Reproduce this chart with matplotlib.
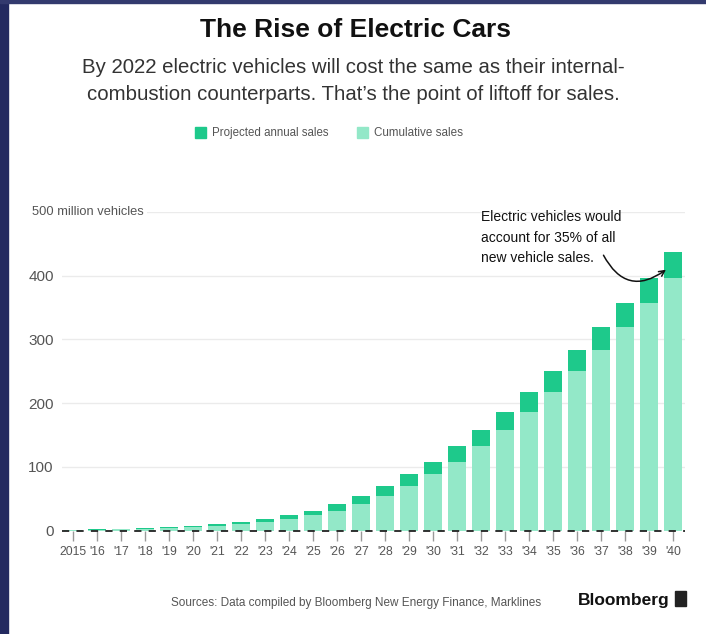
import matplotlib.pyplot as plt
from matplotlib.patches import Rectangle
import numpy as np

plt.rcParams['font.family'] = ['Liberation Sans', 'DejaVu Sans']

years = ['2015', "'16", "'17", "'18", "'19", "'20", "'21", "'22", "'23", "'24",
         "'25", "'26", "'27", "'28", "'29", "'30", "'31", "'32", "'33", "'34",
         "'35", "'36", "'37", "'38", "'39", "'40"]
# million vehicles
cumulative = [0.6, 1.2, 2, 3, 4, 5.5, 7.5, 10.5, 14, 18, 24, 31, 42, 54, 70,
              88, 108, 132, 158, 186, 217, 250, 284, 320, 357, 397]
annual = [0.6, 0.8, 1, 1, 1.5, 2, 3, 3.5, 4, 6, 7, 11, 12, 16, 18, 20, 24,
          26, 28, 31, 33, 34, 36, 37, 40, 40]
yticks = [0, 100, 200, 300, 400, 500]

dark = '#1ec98b'
light = '#93e8c8'
W, H = 706, 634

fig = plt.figure(figsize=(W/100, H/100), dpi=100)
fig.patch.set_facecolor('white')
# slide background strips
fig.add_artist(Rectangle((0, 0), 8/W, 1, transform=fig.transFigure, color='#232a60', zorder=0))
fig.add_artist(Rectangle((0, 1-3/H), 1, 3/H, transform=fig.transFigure, color='#333a6e', zorder=0))

ax = fig.add_axes([62/W, (H-530.5)/H, (685-62)/W, (530.5-212)/H])
x = np.arange(len(years))
ax.bar(x, cumulative, width=0.72, color=light, zorder=2)
ax.bar(x, annual, width=0.72, bottom=cumulative, color=dark, zorder=2)

ax.set_xlim(-0.46, 25.5)
ax.set_ylim(0, 500)
for v in yticks[1:]:
    ax.axhline(v, color='#ebebeb', lw=1, zorder=1)
ax.axhline(0, color='#222222', lw=1.3, ls=(0, (4, 4)), zorder=3, clip_on=False)

for s in ax.spines.values():
    s.set_visible(False)
ax.set_xticks(x)
ax.set_xticklabels(years)
ax.tick_params(axis='x', length=7, width=1, color='#999999', pad=4,
               labelsize=8.8, labelcolor='#555555')
ax.set_yticks(yticks[:-1])
ax.set_yticklabels([str(v) for v in yticks[:-1]])
ax.tick_params(axis='y', length=0, pad=6, labelsize=11, labelcolor='#555555')
ax.text(-0.46 - 30/24, 500, '500 million vehicles', ha='left', va='center',
        fontsize=9.3, color='#555555',
        bbox=dict(facecolor='white', edgecolor='none', pad=2), zorder=4)

# annotation
ax.text(17.0, 503, 'Electric vehicles would\naccount for 35% of all\nnew vehicle sales.',
        ha='left', va='top', fontsize=10, color='#111111', linespacing=1.6)
ax.annotate('', xy=(24.8, 412), xytext=(22.05, 436),
            arrowprops=dict(arrowstyle='->', color='#111111', lw=1.1,
                            connectionstyle='arc3,rad=0.6'))

fig.text(355/W, 1-30/H, 'The Rise of Electric Cars', ha='center', va='center',
         fontsize=19, fontweight='bold', color='#111111')
fig.text(353/W, 1-81/H, 'By 2022 electric vehicles will cost the same as their internal-\n'
         'combustion counterparts. That\u2019s the point of liftoff for sales.',
         ha='center', va='center', fontsize=14.7, color='#333333', linespacing=1.55)

# legend
fig.add_artist(Rectangle((195/W, 1-138/H), 11/W, 11/H, transform=fig.transFigure, color=dark))
fig.text(212/W, 1-133/H, 'Projected annual sales', ha='left', va='center',
         fontsize=8.3, color='#555555')
fig.add_artist(Rectangle((357/W, 1-138/H), 11/W, 11/H, transform=fig.transFigure, color=light))
fig.text(374/W, 1-133/H, 'Cumulative sales', ha='left', va='center',
         fontsize=8.4, color='#555555')

fig.text(356/W, 1-603/H, 'Sources: Data compiled by Bloomberg New Energy Finance, Marklines',
         ha='center', va='center', fontsize=8.5, color='#555555')
fig.text(578/W, 1-601/H, 'Bloomberg', ha='left', va='center', fontsize=12.5,
         fontweight='bold', color='#111111')
fig.add_artist(Rectangle((675/W, 1-606/H), 11/W, 15/H, transform=fig.transFigure, color='#222222'))

fig.savefig('out.png', dpi=100, facecolor=fig.get_facecolor())
